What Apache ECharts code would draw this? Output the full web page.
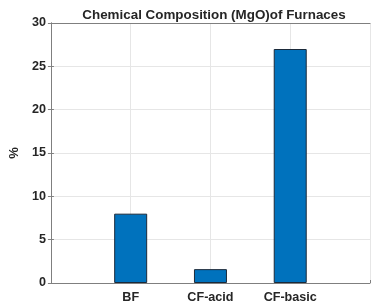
<!DOCTYPE html>
<html>
<head>
<meta charset="utf-8">
<script src="https://cdn.jsdelivr.net/npm/echarts@6/dist/echarts.min.js"></script>
<style>
html, body { margin: 0; padding: 0; background: #fff; }
#chart { width: 373px; height: 307px; }
</style>
</head>
<body>
<div id="chart"></div>
<script>
// categories sit at x = 1, 2, 3 on a 0..4 axis
var categories = ['', 'BF', 'CF-acid', 'CF-basic', ''];
var positions = [1, 2, 3];
var mgoValues = [8, 1.6, 27];
var yTicks = [0, 5, 10, 15, 20, 25, 30];

var barData = [];
for (var i = 0; i < positions.length; i++) {
    barData.push([positions[i], mgoValues[i]]);
}

var textColor = '#262626';
var axisColor = '#7f7f7f';
var gridColor = '#e6e6e6';
var font = 'Arial, Liberation Sans';

var myChart = echarts.init(document.getElementById('chart'));
var option = {
    animation: false,
    title: {
        text: 'Chemical Composition (MgO)of Furnaces',
        left: 209,
        top: 4,
        textAlign: 'center',
        textStyle: { fontFamily: font, fontSize: 13.4, fontWeight: 'bold', color: textColor }
    },
    grid: { left: 44, top: 23, width: 330, height: 260 },
    xAxis: [{
        type: 'value',
        min: 0,
        max: 4,
        interval: 1,
        axisLine: { show: true, lineStyle: { color: axisColor, width: 1 } },
        axisTick: { show: true, inside: true, length: 3, lineStyle: { color: axisColor } },
        axisLabel: {
            margin: 8,
            fontFamily: font, fontSize: 12.6, fontWeight: 'bold', color: textColor,
            formatter: function (v) { return categories[v] || ''; }
        },
        splitLine: { show: true, lineStyle: { color: gridColor } }
    }, {
        type: 'value',
        position: 'top',
        min: 0,
        max: 4,
        interval: 1,
        axisLine: { show: true, onZero: false, lineStyle: { color: axisColor, width: 1 } },
        axisTick: { show: false },
        axisLabel: { show: false },
        splitLine: { show: false }
    }],
    yAxis: [{
        type: 'value',
        min: 0,
        max: 30,
        interval: 5,
        name: '%',
        nameLocation: 'middle',
        nameGap: 25,
        nameTextStyle: { fontFamily: font, fontSize: 13, fontWeight: 'bold', color: textColor },
        axisLine: { show: true, lineStyle: { color: axisColor, width: 1 } },
        axisTick: { show: true, inside: true, length: 3, lineStyle: { color: axisColor } },
        axisLabel: {
            margin: 5,
            fontFamily: font, fontSize: 12.6, fontWeight: 'bold', color: textColor,
            formatter: function (v) { return yTicks.indexOf(v) >= 0 ? String(v) : ''; }
        },
        splitLine: { show: true, lineStyle: { color: gridColor } }
    }, {
        type: 'value',
        position: 'right',
        min: 0,
        max: 30,
        interval: 5,
        axisLine: { show: true, lineStyle: { color: axisColor, width: 1 } },
        axisTick: { show: true, inside: true, length: 3, lineStyle: { color: axisColor } },
        axisLabel: { show: false },
        splitLine: { show: false }
    }],
    series: [{
        type: 'bar',
        data: barData,
        barWidth: 33,
        itemStyle: { color: '#0072BD', borderColor: '#1b2a3a', borderWidth: 1 }
    }]
};
myChart.setOption(option);
</script>
</body>
</html>
